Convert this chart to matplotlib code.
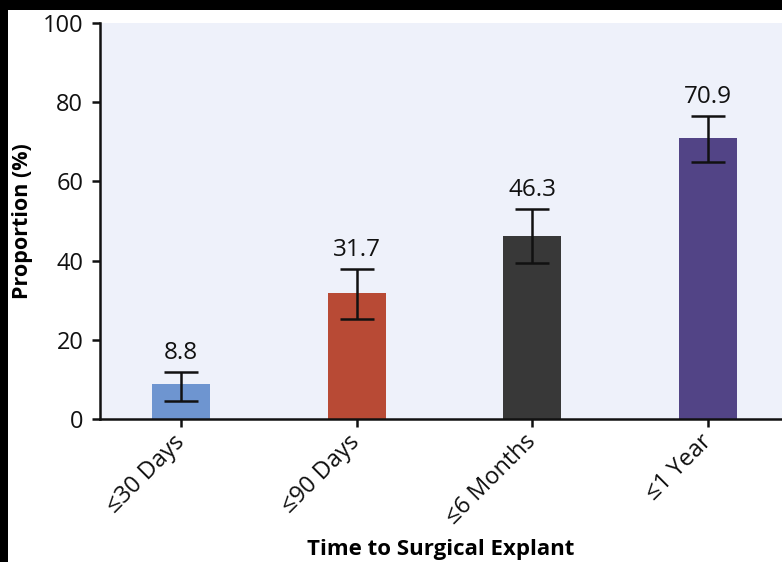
import matplotlib.pyplot as plt
from matplotlib.patches import Rectangle

plt.rcParams['font.family'] = ['Open Sans', 'Noto Sans', 'DejaVu Sans']

# Proportion explanted by time point, with 95% CI bounds
categories = ['≤30 Days', '≤90 Days', '≤6 Months', '≤1 Year']
proportions = [8.8, 31.7, 46.3, 70.9]
ci_lower = [4.6, 25.3, 39.5, 64.8]
ci_upper = [11.8, 37.9, 53.0, 76.6]
bar_colors = ['#6E95D0', '#B84A35', '#383838', '#524486']

fig = plt.figure(figsize=(7.82, 5.62), dpi=100, facecolor='black')
# white page inset from the black frame on top and left
fig.patches.append(Rectangle((8 / 782, 0), 1, 1 - 10 / 562, transform=fig.transFigure,
                             facecolor='white', edgecolor='none', zorder=-1))

ax = fig.add_axes([100 / 782, 1 - 419 / 562, 682 / 782, 396 / 562])
ax.set_facecolor('#EEF1FA')

x = range(len(categories))
yerr = [[p - lo for p, lo in zip(proportions, ci_lower)],
        [hi - p for p, hi in zip(proportions, ci_upper)]]
ax.bar(x, proportions, width=0.33, color=bar_colors, zorder=2)
ax.errorbar(x, proportions, yerr=yerr, fmt='none', ecolor='#111111',
            elinewidth=1.8, capsize=12, capthick=1.8, zorder=3)

for xi, p, hi in zip(x, proportions, ci_upper):
    ax.text(xi, hi + 1.8, f'{p:.1f}', ha='center', va='bottom',
            fontsize=17.5, color='#111111')

ax.set_xlim(-0.46, 3.42)
ax.set_ylim(0, 100)
ax.set_yticks([0, 20, 40, 60, 80, 100])
ax.set_xticks(list(x))
ax.set_xticklabels(categories, rotation=45, ha='right', va='center',
                   rotation_mode='anchor')

for side in ['top', 'right']:
    ax.spines[side].set_visible(False)
for side in ['left', 'bottom']:
    ax.spines[side].set_linewidth(1.8)
    ax.spines[side].set_color('#111111')

ax.tick_params(axis='both', length=6, width=1.8, color='#111111',
               labelsize=17, labelcolor='#111111')
ax.tick_params(axis='x', pad=8)
ax.tick_params(axis='y', pad=6)

ax.set_ylabel('Proportion (%)', fontsize=15.5, fontweight='bold', labelpad=7)
ax.set_xlabel('Time to Surgical Explant', fontsize=16, fontweight='bold', labelpad=7)

fig.savefig('out.png', dpi=100, facecolor=fig.get_facecolor())
